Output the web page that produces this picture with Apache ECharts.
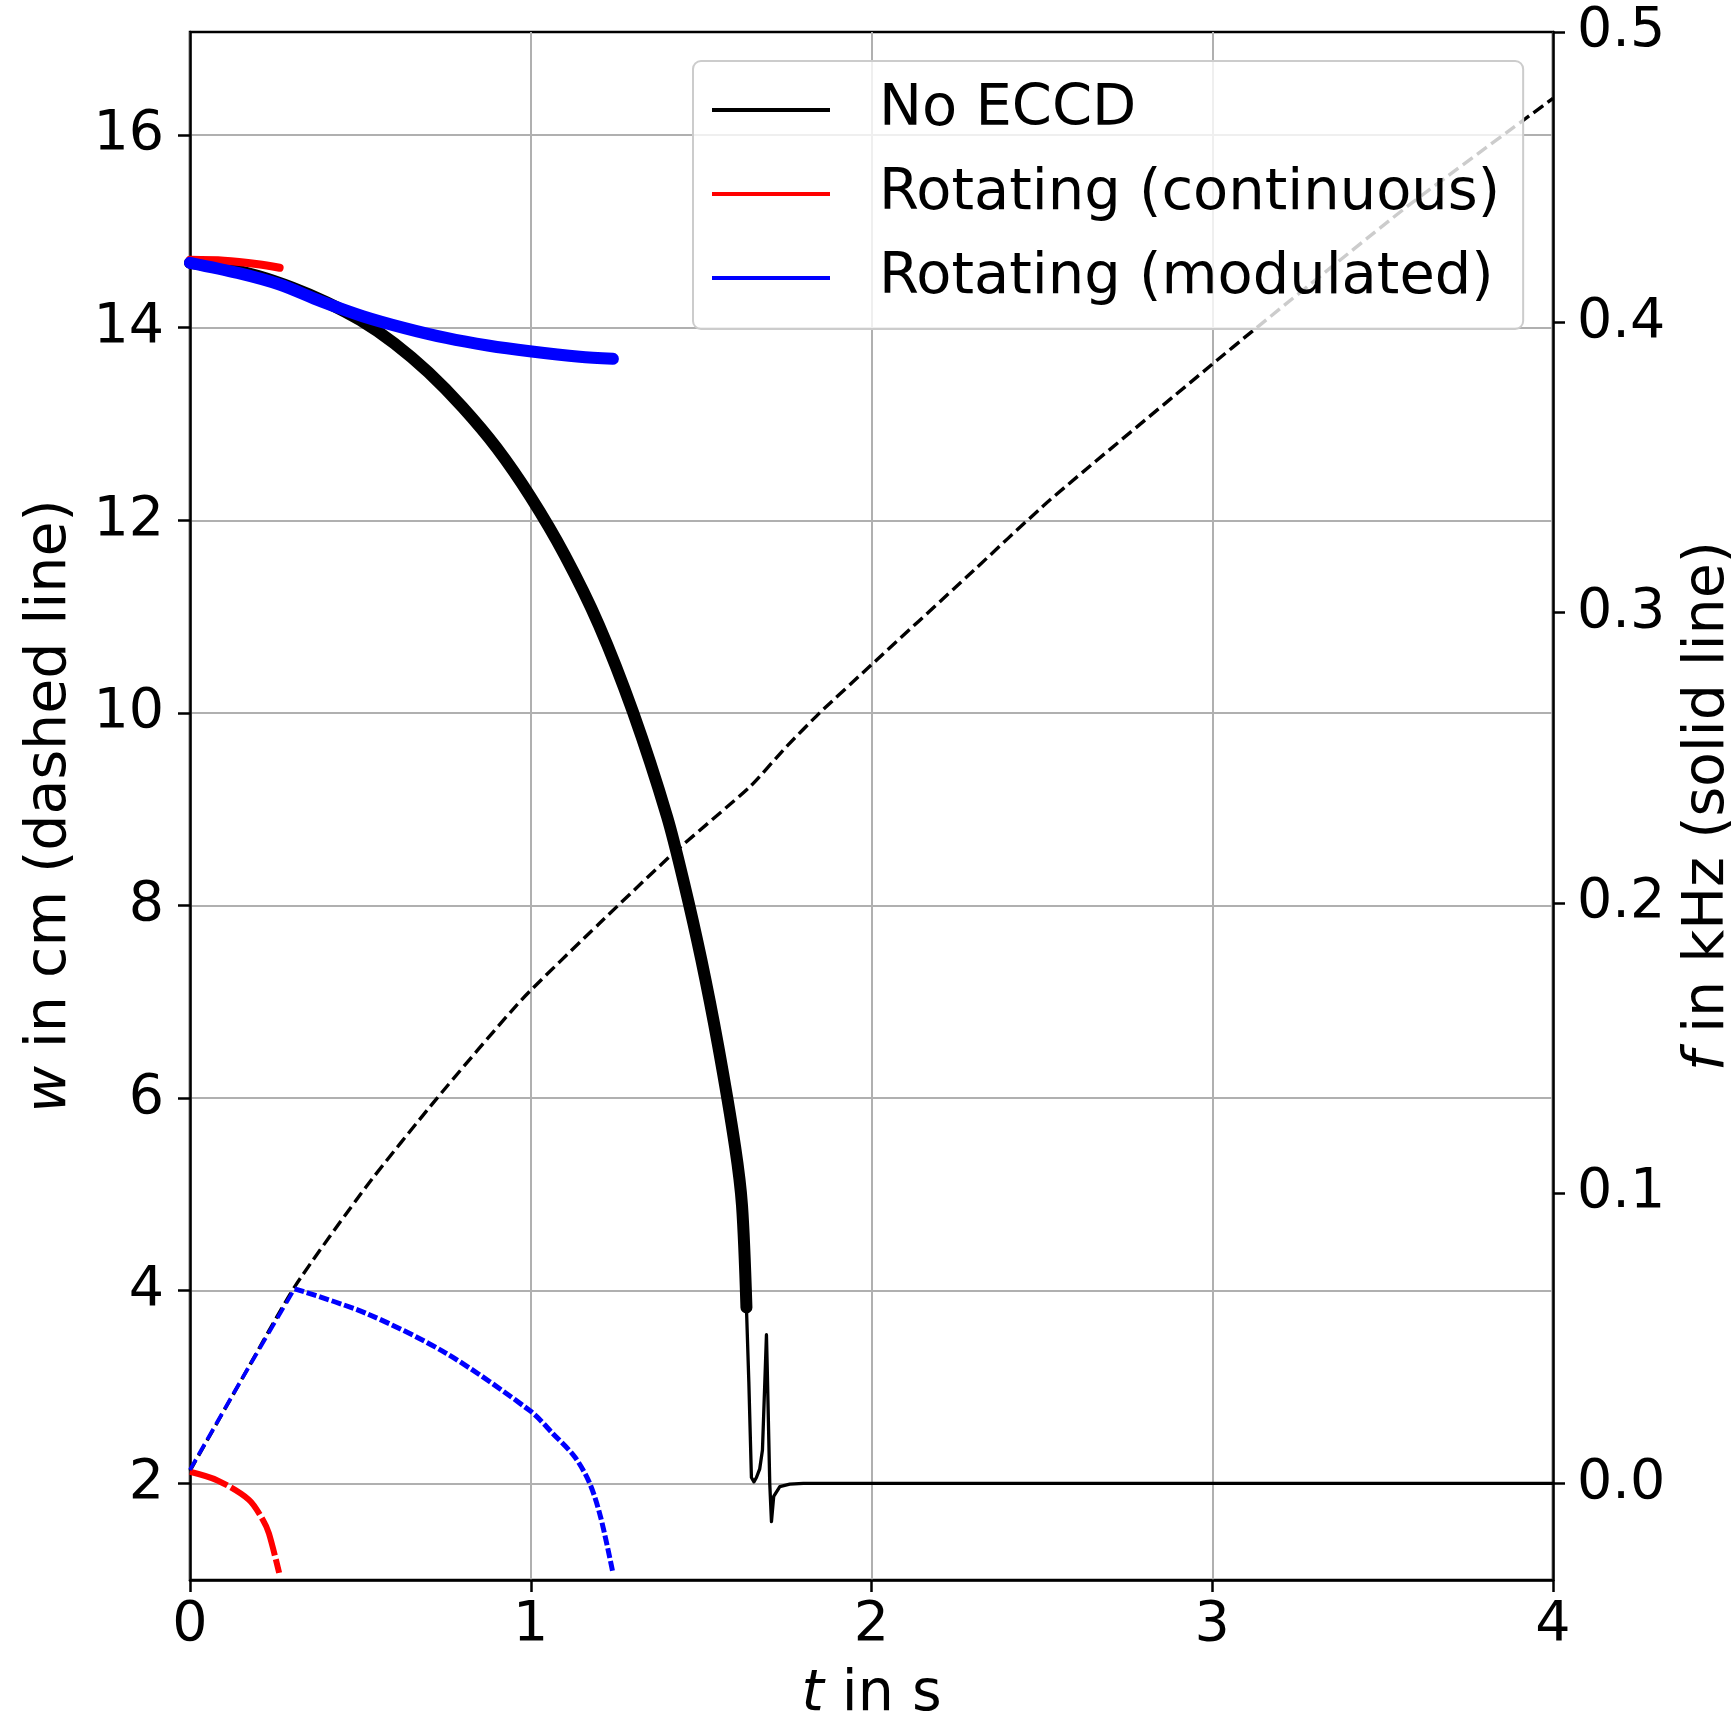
<!DOCTYPE html>
<html>
<head>
<meta charset="utf-8">
<script src="https://cdn.jsdelivr.net/npm/echarts@6/dist/echarts.min.js"></script>
<style>html,body{margin:0;padding:0;background:#fff}#c{width:1736px;height:1715px}</style>
</head>
<body>
<div id="c"></div>
<script>
// ---- data ----
const legendNames = ['No ECCD', 'Rotating (continuous)', 'Rotating (modulated)'];
const xTicks = [0, 1, 2, 3, 4];
const wTicks = [2, 4, 6, 8, 10, 12, 14, 16];
const fTicks = [0, 0.1, 0.2, 0.3, 0.4, 0.5];

// No ECCD: frequency f (kHz), thick oscillating part
const tNoF = [0, 0.1, 0.2, 0.3, 0.4, 0.5, 0.6, 0.7, 0.8, 0.9, 1.0, 1.1, 1.2, 1.3, 1.4, 1.45, 1.5, 1.55, 1.6, 1.62, 1.633];
const fNo  = [0.4205, 0.4187, 0.4159, 0.4119, 0.4069, 0.4007, 0.3927, 0.3827, 0.3707, 0.3567, 0.3397, 0.3197, 0.2957, 0.2657, 0.2297, 0.2067, 0.1807, 0.1507, 0.1157, 0.0957, 0.0606];
// No ECCD: frequency after locking (thin)
const tNoFTail = [1.633, 1.640, 1.6476, 1.655, 1.6623, 1.672, 1.680, 1.6868, 1.6917, 1.694, 1.7014, 1.7064, 1.713, 1.731, 1.760, 1.80, 4.0];
const fNoTail  = [0.0606, 0.035, 0.002, 0.0005, 0.002, 0.005, 0.0115, 0.0345, 0.0512, 0.040, 0.0, -0.0132, -0.0045, -0.0011, -0.0003, 0.0, 0.0];
// No ECCD: island width w (cm)
const tNoW = [0, 0.155, 0.307, 0.517, 0.7228, 0.9724, 1.202, 1.4176, 1.643, 1.750, 1.848, 2.0, 2.279, 2.5235, 3.0, 3.12, 3.571, 4.0];
const wNo  = [2.13, 3.1, 4.04, 5.08, 5.99, 7.018, 7.815, 8.54, 9.233, 9.648, 10.0, 10.5, 11.41, 12.21, 13.62, 13.97, 15.255, 16.38];

// Rotating (continuous)
const tContF = [0, 0.1, 0.2, 0.263];
const fCont  = [0.4215, 0.4212, 0.4200, 0.4188];
const tContW = [0, 0.0807, 0.1727, 0.214, 0.2316, 0.2616];
const wCont  = [2.12, 2.03, 1.83, 1.62, 1.48, 1.07];

// Rotating (modulated)
const tModF = [0, 0.14, 0.263, 0.385, 0.507, 0.630, 0.752, 0.874, 0.997, 1.1436, 1.241];
const fMod  = [0.4205, 0.417, 0.413, 0.4072, 0.4021, 0.398, 0.3946, 0.392, 0.390, 0.3881, 0.3874];
const tModWRise = [0, 0.155, 0.307];
const wModRise  = [2.14, 3.1, 4.02];
const tModWFall = [0.307, 0.517, 0.752, 0.999, 1.064, 1.13, 1.173, 1.205, 1.2405];
const wModFall  = [4.02, 3.765, 3.35, 2.75, 2.52, 2.27, 2.0, 1.65, 1.08];

const zip = (a, b) => a.map((v, i) => [v, b[i]]);

const FONT = 'DejaVu Sans';
const FS_TICK = 55.5;
const FS_NAME = 57;
const FS_LEG = 57.5;
const axisTxt = {fontFamily: FONT, fontSize: FS_TICK, color: '#000'};
const nameStyle = {fontFamily: FONT, fontSize: FS_NAME, color: '#000', lineHeight: 64,
  rich: {i: {fontFamily: FONT, fontSize: FS_NAME, fontStyle: 'italic', color: '#000', lineHeight: 64}}};

const chart = echarts.init(document.getElementById('c'), null, {renderer: 'canvas'});

function line(name, data, color, width, yIdx, dash, opts) {
  return Object.assign({
    type: 'line', name: name, data: data, yAxisIndex: yIdx,
    showSymbol: false, symbol: 'none', animation: false, silent: true,
    color: color, itemStyle: {color: color},
    lineStyle: {color: color, width: width, type: dash || 'solid', cap: dash ? 'butt' : 'round', join: 'round'}
  }, opts || {});
}

chart.setOption({
  animation: false,
  backgroundColor: '#fff',
  grid: {left: 190, right: 183, top: 32, bottom: 135, show: true, borderColor: '#000', borderWidth: 2.5,
    backgroundColor: 'transparent', containLabel: false, outerBoundsMode: 'none'},
  legend: {
    orient: 'vertical', left: 693, top: 61, selectedMode: false,
    padding: [17, 23, 19, 19], itemWidth: 118, itemHeight: 4, itemGap: 20, icon: 'rect',
    textStyle: {fontFamily: FONT, fontSize: FS_LEG, color: '#000', lineHeight: 64, padding: [0, 0, 0, 44]},
    backgroundColor: 'rgba(255,255,255,0.8)', borderColor: '#cccccc', borderWidth: 2, borderRadius: 8,
    data: legendNames.map(n => ({name: n, icon: 'rect'}))
  },
  xAxis: {
    type: 'value', min: xTicks[0], max: xTicks[xTicks.length - 1], interval: 1,
    name: '{i|t} in s', nameLocation: 'middle', nameGap: 82, nameTextStyle: nameStyle,
    axisLine: {show: true, onZero: false, lineStyle: {color: '#000', width: 2.5}},
    axisTick: {show: true, inside: false, length: 12, lineStyle: {color: '#000', width: 2.5}},
    axisLabel: Object.assign({margin: 14, lineHeight: 64, formatter: v => String(v)}, axisTxt),
    splitLine: {show: true, lineStyle: {color: '#b0b0b0', width: 2}}
  },
  yAxis: [{
    type: 'value', position: 'left', min: 0.996, max: 17.07,
    name: '{i|w} in cm (dashed line)', nameLocation: 'middle', nameRotate: 90, nameGap: 103, nameTextStyle: nameStyle,
    axisLine: {show: true, onZero: false, lineStyle: {color: '#000', width: 2.5}},
    axisTick: {show: true, inside: false, length: 12, customValues: wTicks, lineStyle: {color: '#000', width: 2.5}},
    axisLabel: Object.assign({margin: 26, customValues: wTicks, formatter: v => String(Math.round(v))}, axisTxt),
    splitLine: {show: true, lineStyle: {color: '#b0b0b0', width: 2}}
  }, {
    type: 'value', position: 'right', min: -0.0333, max: 0.5,
    name: '{i|f} in kHz (solid line)', nameLocation: 'middle', nameRotate: 90, nameGap: 120, nameTextStyle: nameStyle,
    axisLine: {show: true, onZero: false, lineStyle: {color: '#000', width: 2.5}},
    axisTick: {show: true, inside: false, length: 12, customValues: fTicks, lineStyle: {color: '#000', width: 2.5}},
    axisLabel: Object.assign({margin: 24, customValues: fTicks, formatter: v => v.toFixed(1)}, axisTxt),
    splitLine: {show: false}
  }],
  series: [
    line(legendNames[0], zip(tNoF, fNo), '#000000', 12, 1, null, {smooth: 0.3}),
    line(legendNames[0], zip(tNoFTail, fNoTail), '#000000', 3.3, 1, null),
    line(legendNames[0], zip(tNoW, wNo), '#000000', 3.4, 0, [12, 5.5], {smooth: 0.2}),
    line(legendNames[1], zip(tContF, fCont), '#ff0000', 8, 1, null, {smooth: 0.3}),
    line(legendNames[1], zip(tContW, wCont), '#ff0000', 6, 0, [40, 4], {smooth: 0.3}),
    line(legendNames[2], zip(tModF, fMod), '#0000ff', 12, 1, null, {smooth: 0.3}),
    line(legendNames[2], zip(tModWRise, wModRise), '#0000ff', 3.8, 0, [12, 5.5], {smooth: 0.2}),
    line(legendNames[2], zip(tModWFall, wModFall), '#0000ff', 5, 0, [10, 3], {smooth: 0.3})
  ]
});
</script>
</body>
</html>
